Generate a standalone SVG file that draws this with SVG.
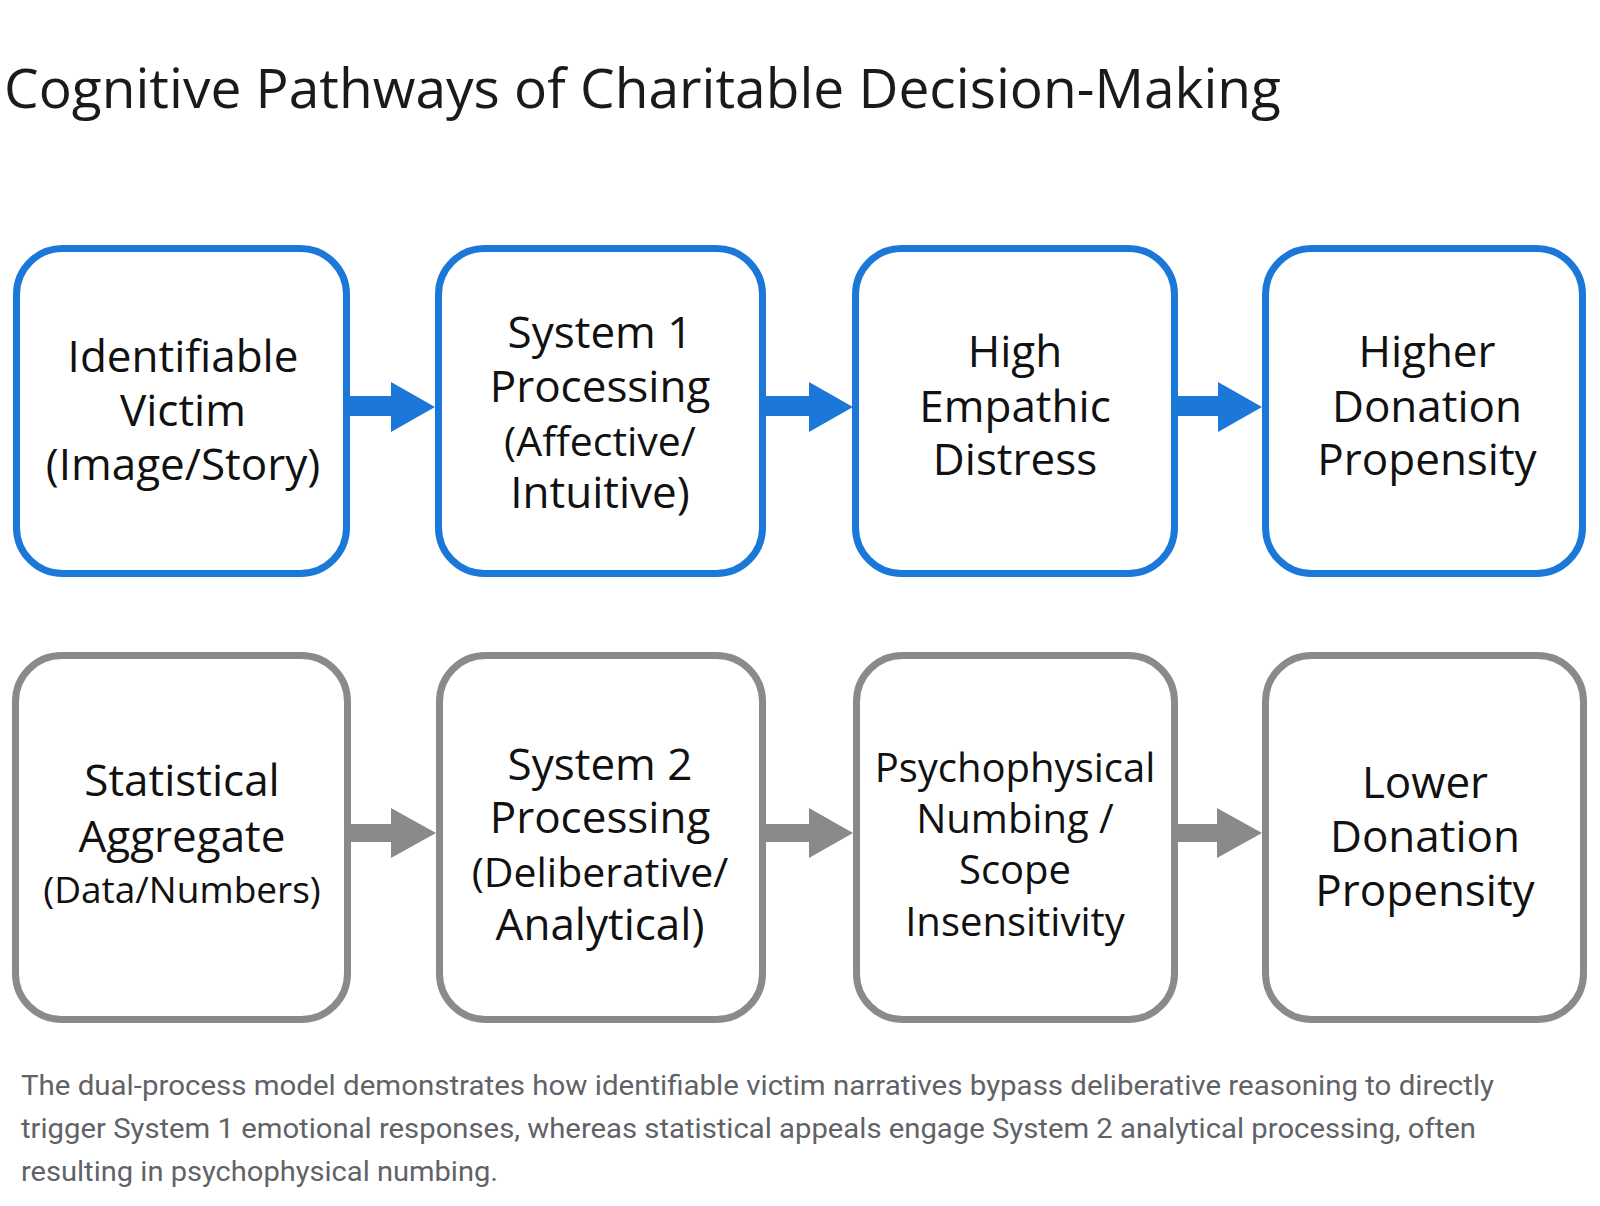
<svg xmlns="http://www.w3.org/2000/svg" width="1600" height="1206" viewBox="0 0 1600 1206">
<style>
.bg{fill:#ffffff}
.box{fill:#ffffff;stroke-width:7}
.blue{stroke:#1b78d8}
.gray{stroke:#8a8a8a}
.lbl{font-family:"Open Sans","Liberation Sans",sans-serif;font-size:44px;fill:#111111;text-anchor:middle}
.sm{font-size:40px}
.xs{font-size:37px}
.md{font-size:41px}
.title{font-family:"Open Sans","Liberation Sans",sans-serif;font-size:54px;fill:#1a1a1a}
.cap{font-family:Roboto,"Liberation Sans",sans-serif;font-size:28px;fill:#5f6368}
.ab{fill:#1b78d8}
.ag{fill:#8a8a8a}
</style>
<rect class="bg" x="0" y="0" width="1600" height="1206"/>
<text class="title" x="4" y="108" textLength="1277" lengthAdjust="spacingAndGlyphs">Cognitive Pathways of Charitable Decision-Making</text>

<g id="connectors">
<polygon class="ab" points="350,396 391,396 391,382 435,407 391,432 391,416 350,416"/>
<polygon class="ab" points="766,396 809,396 809,382 853,407 809,432 809,416 766,416"/>
<polygon class="ab" points="1178,396 1218,396 1218,382 1262,407 1218,432 1218,416 1178,416"/>
<polygon class="ag" points="351,824 391,824 391,808 436,833 391,858 391,842 351,842"/>
<polygon class="ag" points="766,824 809,824 809,808 853,833 809,858 809,842 766,842"/>
<polygon class="ag" points="1178,824 1217,824 1217,808 1262,833 1217,858 1217,842 1178,842"/>
</g>

<g id="n1">
<rect class="box blue" x="16.5" y="248.5" width="330" height="325" rx="46"/>
<text class="lbl"><tspan x="183" y="372">Identifiable</tspan><tspan x="183" y="426">Victim</tspan><tspan x="183" y="480">(Image/Story)</tspan></text>
</g>
<g id="n2">
<rect class="box blue" x="438.5" y="248.5" width="324" height="325" rx="46"/>
<text class="lbl"><tspan x="600" y="348">System 1</tspan><tspan x="600" y="402">Processing</tspan><tspan class="md" x="600" y="456">(Affective/</tspan><tspan x="600" y="508">Intuitive)</tspan></text>
</g>
<g id="n3">
<rect class="box blue" x="855.5" y="248.5" width="319" height="325" rx="46"/>
<text class="lbl"><tspan x="1015" y="367">High</tspan><tspan x="1015" y="422">Empathic</tspan><tspan x="1015" y="475">Distress</tspan></text>
</g>
<g id="n4">
<rect class="box blue" x="1265.5" y="248.5" width="317" height="325" rx="46"/>
<text class="lbl"><tspan x="1427" y="367">Higher</tspan><tspan x="1427" y="422">Donation</tspan><tspan x="1427" y="475">Propensity</tspan></text>
</g>

<g id="n5">
<rect class="box gray" x="15.5" y="655.5" width="332" height="364" rx="46"/>
<text class="lbl"><tspan x="182" y="796">Statistical</tspan><tspan x="182" y="852">Aggregate</tspan><tspan class="xs" x="182" y="903">(Data/Numbers)</tspan></text>
</g>
<g id="n6">
<rect class="box gray" x="439.5" y="655.5" width="323" height="364" rx="46"/>
<text class="lbl"><tspan x="600" y="780">System 2</tspan><tspan x="600" y="833">Processing</tspan><tspan class="md" x="600" y="887">(Deliberative/</tspan><tspan x="600" y="940">Analytical)</tspan></text>
</g>
<g id="n7">
<rect class="box gray" x="856.5" y="655.5" width="318" height="364" rx="46"/>
<text class="lbl sm"><tspan x="1015" y="782">Psychophysical</tspan><tspan x="1015" y="833">Numbing /</tspan><tspan x="1015" y="884">Scope</tspan><tspan x="1015" y="936">Insensitivity</tspan></text>
</g>
<g id="n8">
<rect class="box gray" x="1265.5" y="655.5" width="318" height="364" rx="46"/>
<text class="lbl"><tspan x="1425" y="798">Lower</tspan><tspan x="1425" y="852">Donation</tspan><tspan x="1425" y="906">Propensity</tspan></text>
</g>

<text class="cap" x="21" y="1095" textLength="1473" lengthAdjust="spacingAndGlyphs">The dual-process model demonstrates how identifiable victim narratives bypass deliberative reasoning to directly</text>
<text class="cap" x="21" y="1138" textLength="1455" lengthAdjust="spacingAndGlyphs">trigger System 1 emotional responses, whereas statistical appeals engage System 2 analytical processing, often</text>
<text class="cap" x="21" y="1181" textLength="477" lengthAdjust="spacingAndGlyphs">resulting in psychophysical numbing.</text>
</svg>
